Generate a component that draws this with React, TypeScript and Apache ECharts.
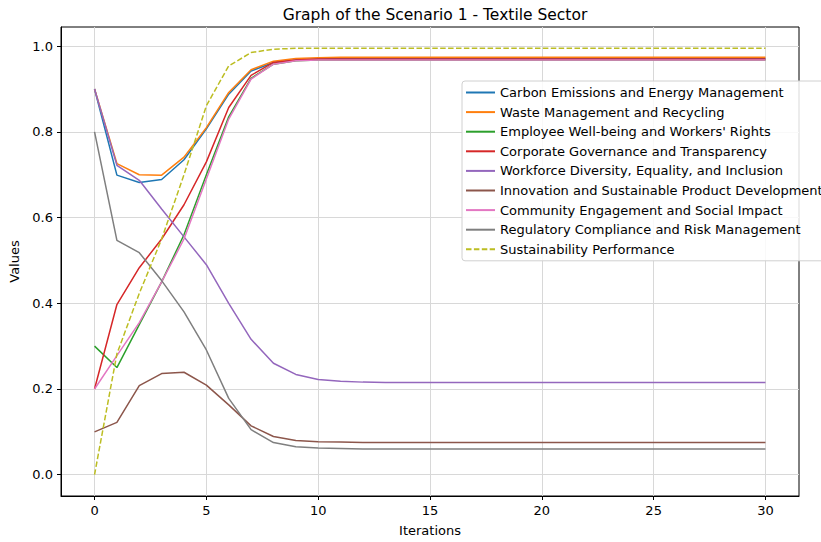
import React, { useEffect, useRef } from "react";
import * as echarts from "echarts";

const iterations: number[] = [0,1,2,3,4,5,6,7,8,9,10,11,12,13,14,15,16,17,18,19,20,21,22,23,24,25,26,27,28,29,30];

const carbon: number[] = [0.900,0.699,0.682,0.689,0.735,0.807,0.888,0.942,0.962,0.968,0.970,0.971,0.971,0.971,0.971,0.971,0.971,0.971,0.971,0.971,0.971,0.971,0.971,0.971,0.971,0.971,0.971,0.971,0.971,0.971,0.971];
const waste: number[] = [0.900,0.726,0.700,0.699,0.741,0.810,0.892,0.945,0.965,0.971,0.973,0.974,0.974,0.974,0.974,0.974,0.974,0.974,0.974,0.974,0.974,0.974,0.974,0.974,0.974,0.974,0.974,0.974,0.974,0.974,0.974];
const employee: number[] = [0.300,0.250,0.350,0.450,0.560,0.700,0.835,0.925,0.958,0.966,0.968,0.968,0.968,0.968,0.968,0.968,0.968,0.968,0.968,0.968,0.968,0.968,0.968,0.968,0.968,0.968,0.968,0.968,0.968,0.968,0.968];
const governance: number[] = [0.200,0.397,0.483,0.550,0.630,0.730,0.857,0.932,0.962,0.968,0.970,0.970,0.970,0.970,0.970,0.970,0.970,0.970,0.970,0.970,0.970,0.970,0.970,0.970,0.970,0.970,0.970,0.970,0.970,0.970,0.970];
const diversity: number[] = [0.900,0.722,0.687,0.620,0.555,0.490,0.400,0.316,0.260,0.234,0.222,0.218,0.216,0.215,0.215,0.215,0.215,0.215,0.215,0.215,0.215,0.215,0.215,0.215,0.215,0.215,0.215,0.215,0.215,0.215,0.215];
const innovation: number[] = [0.100,0.122,0.208,0.236,0.239,0.209,0.163,0.114,0.089,0.080,0.077,0.076,0.075,0.075,0.075,0.075,0.075,0.075,0.075,0.075,0.075,0.075,0.075,0.075,0.075,0.075,0.075,0.075,0.075,0.075,0.075];
const community: number[] = [0.200,0.278,0.355,0.450,0.550,0.690,0.830,0.923,0.958,0.966,0.968,0.968,0.968,0.968,0.968,0.968,0.968,0.968,0.968,0.968,0.968,0.968,0.968,0.968,0.968,0.968,0.968,0.968,0.968,0.968,0.968];
const regulatory: number[] = [0.800,0.547,0.518,0.453,0.380,0.291,0.178,0.105,0.075,0.065,0.062,0.061,0.060,0.060,0.060,0.060,0.060,0.060,0.060,0.060,0.060,0.060,0.060,0.060,0.060,0.060,0.060,0.060,0.060,0.060,0.060];
const sustainability: number[] = [0.000,0.282,0.423,0.550,0.700,0.861,0.954,0.985,0.993,0.995,0.995,0.995,0.995,0.995,0.995,0.995,0.995,0.995,0.995,0.995,0.995,0.995,0.995,0.995,0.995,0.995,0.995,0.995,0.995,0.995,0.995];

const xTicks: number[] = [0, 5, 10, 15, 20, 25, 30];
const yTicks: number[] = [0, 0.2, 0.4, 0.6, 0.8, 1.0];

const seriesNames: string[] = [
  "Carbon Emissions and Energy Management",
  "Waste Management and Recycling",
  "Employee Well-being and Workers' Rights",
  "Corporate Governance and Transparency",
  "Workforce Diversity, Equality, and Inclusion",
  "Innovation and Sustainable Product Development",
  "Community Engagement and Social Impact",
  "Regulatory Compliance and Risk Management",
  "Sustainability Performance",
];
const seriesValues: number[][] = [carbon, waste, employee, governance, diversity, innovation, community, regulatory, sustainability];
const colors: string[] = ["#1f77b4", "#ff7f0e", "#2ca02c", "#d62728", "#9467bd", "#8c564b", "#e377c2", "#7f7f7f", "#bcbd22"];

const FONT = "DejaVu Sans";

export default function App() {
  const ref = useRef<HTMLDivElement>(null);
  useEffect(() => {
    if (!ref.current) return;
    const chart = echarts.init(ref.current, undefined, { renderer: "svg" });
    const series = seriesNames.map((name, k) => ({
      name,
      type: "line",
      data: iterations.map((it, i) => [it, seriesValues[k][i]]),
      symbol: "none",
      showSymbol: false,
      lineStyle: {
        color: colors[k],
        width: 1.5,
        type: k === 8 ? [5.5, 2.4] : "solid",
      },
      itemStyle: { color: colors[k] },
      z: 3,
    }));
    chart.setOption({
      animation: false,
      backgroundColor: "#ffffff",
      textStyle: { fontFamily: FONT },
      title: {
        text: "Graph of the Scenario 1 - Textile Sector",
        left: 430,
        top: 2,
        textAlign: "center",
        textStyle: { fontFamily: FONT, fontSize: 15.5, fontWeight: "normal", color: "#000" },
      },
      legend: {
        orient: "vertical",
        left: 462,
        top: 81,
        itemWidth: 29,
        itemHeight: 12,
        itemGap: 6.6,
        padding: [5, 6, 5, 3],
        backgroundColor: "rgba(255,255,255,0.85)",
        borderColor: "#d0d0d0",
        borderWidth: 1,
        borderRadius: 3,
        itemStyle: { opacity: 0, color: "rgba(0,0,0,0)", borderWidth: 0 },
        textStyle: { fontFamily: FONT, fontSize: 13, color: "#000" },
        data: seriesNames,
      },
      grid: {
        left: 61,
        right: 22,
        top: 27,
        bottom: 42,
        show: true,
        borderColor: "#000",
        borderWidth: 1,
        backgroundColor: "transparent",
      },
      xAxis: {
        type: "value",
        min: -1.5,
        max: 31.5,
        name: "Iterations",
        nameLocation: "middle",
        nameGap: 28,
        nameTextStyle: { fontFamily: FONT, fontSize: 13, color: "#000" },
        axisLine: { show: true, onZero: false, lineStyle: { color: "#000", width: 1 } },
        axisTick: { show: true, length: 4, customValues: xTicks, lineStyle: { color: "#000" } },
        axisLabel: { customValues: xTicks, fontFamily: FONT, fontSize: 13, color: "#000", margin: 8 },
        splitLine: { show: true, lineStyle: { color: "#d8d8d8", width: 1 } },
      },
      yAxis: {
        type: "value",
        min: -0.04975,
        max: 1.04475,
        name: "Values",
        nameLocation: "middle",
        nameGap: 35,
        nameTextStyle: { fontFamily: FONT, fontSize: 13, color: "#000" },
        axisLine: { show: true, onZero: false, lineStyle: { color: "#000", width: 1 } },
        axisTick: { show: true, length: 4, customValues: yTicks, lineStyle: { color: "#000" } },
        axisLabel: {
          customValues: yTicks,
          fontFamily: FONT,
          fontSize: 13,
          color: "#000",
          margin: 8,
          formatter: (v: number) => v.toFixed(1),
        },
        splitLine: { show: true, lineStyle: { color: "#d8d8d8", width: 1 } },
      },
      series,
    });
    return () => chart.dispose();
  }, []);
  return (
    <div
      ref={ref}
      style={{ position: "fixed", left: 0, top: 0, width: 821, height: 542 }}
    />
  );
}
